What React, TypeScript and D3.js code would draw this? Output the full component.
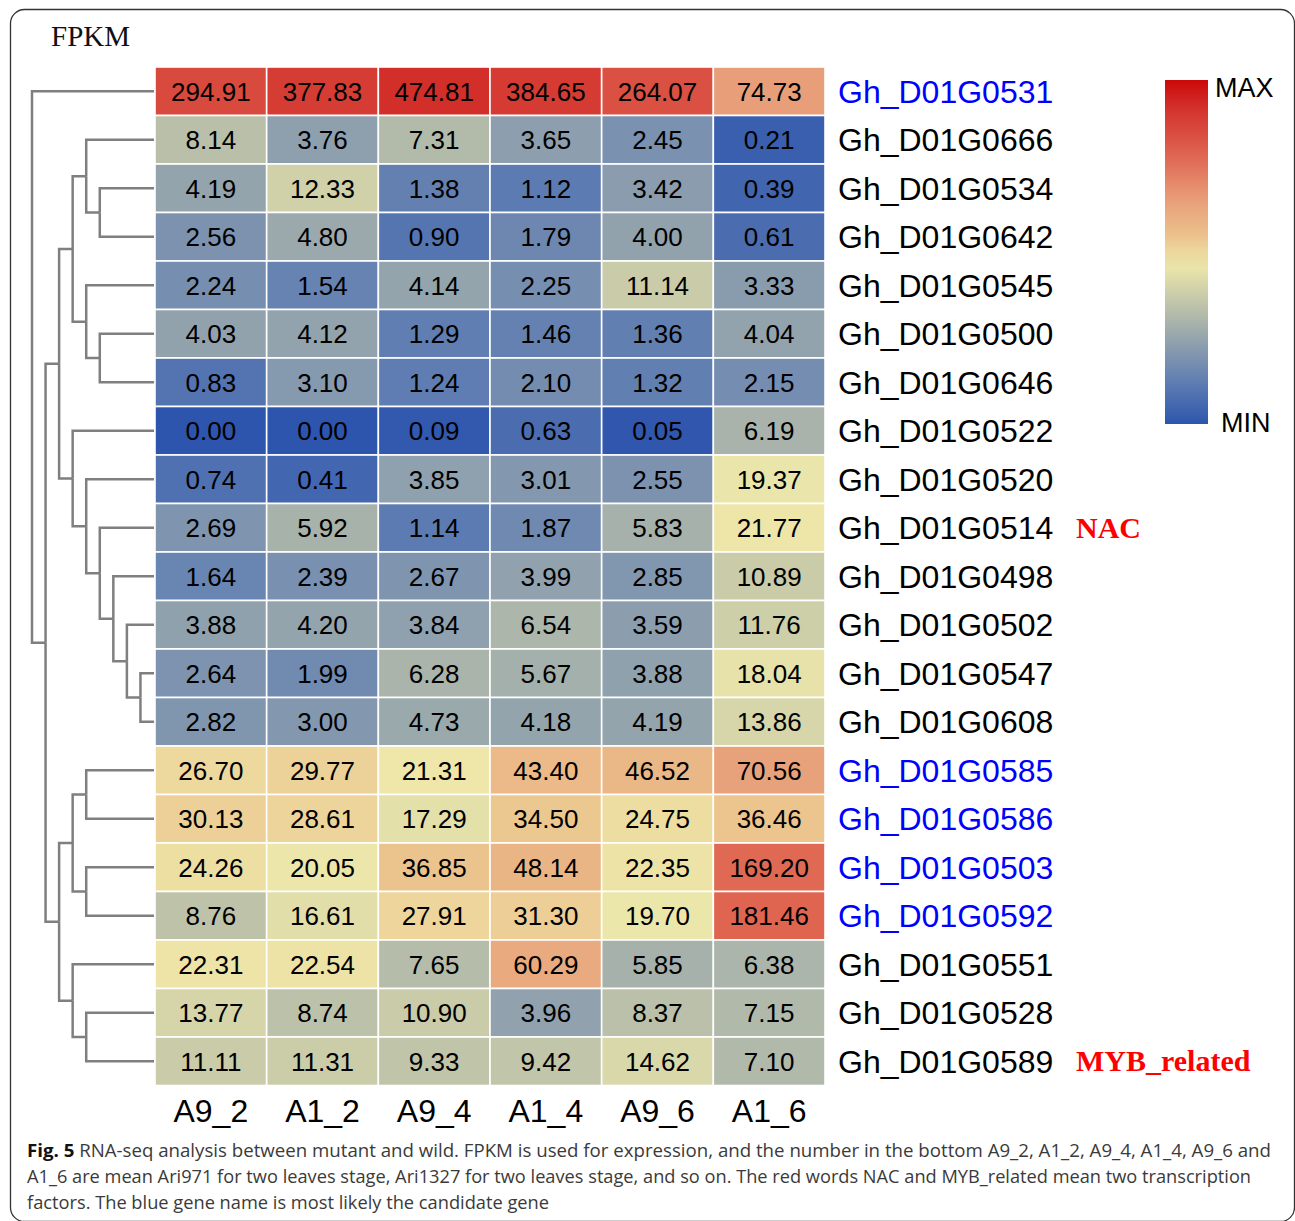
import React from 'react';
import * as d3 from 'd3';

// gene rows, top to bottom as in the clustered heatmap
const genes = [
  'Gh_D01G0531', 'Gh_D01G0666', 'Gh_D01G0534', 'Gh_D01G0642', 'Gh_D01G0545',
  'Gh_D01G0500', 'Gh_D01G0646', 'Gh_D01G0522', 'Gh_D01G0520', 'Gh_D01G0514',
  'Gh_D01G0498', 'Gh_D01G0502', 'Gh_D01G0547', 'Gh_D01G0608', 'Gh_D01G0585',
  'Gh_D01G0586', 'Gh_D01G0503', 'Gh_D01G0592', 'Gh_D01G0551', 'Gh_D01G0528',
  'Gh_D01G0589',
];
const samples = ['A9_2', 'A1_2', 'A9_4', 'A1_4', 'A9_6', 'A1_6'];

// FPKM per sample (one value per gene, same order as genes)
const a9_2 = [294.91, 8.14, 4.19, 2.56, 2.24, 4.03, 0.83, 0.0, 0.74, 2.69, 1.64, 3.88, 2.64, 2.82, 26.7, 30.13, 24.26, 8.76, 22.31, 13.77, 11.11];
const a1_2 = [377.83, 3.76, 12.33, 4.8, 1.54, 4.12, 3.1, 0.0, 0.41, 5.92, 2.39, 4.2, 1.99, 3.0, 29.77, 28.61, 20.05, 16.61, 22.54, 8.74, 11.31];
const a9_4 = [474.81, 7.31, 1.38, 0.9, 4.14, 1.29, 1.24, 0.09, 3.85, 1.14, 2.67, 3.84, 6.28, 4.73, 21.31, 17.29, 36.85, 27.91, 7.65, 10.9, 9.33];
const a1_4 = [384.65, 3.65, 1.12, 1.79, 2.25, 1.46, 2.1, 0.63, 3.01, 1.87, 3.99, 6.54, 5.67, 4.18, 43.4, 34.5, 48.14, 31.3, 60.29, 3.96, 9.42];
const a9_6 = [264.07, 2.45, 3.42, 4.0, 11.14, 1.36, 1.32, 0.05, 2.55, 5.83, 2.85, 3.59, 3.88, 4.19, 46.52, 24.75, 22.35, 19.7, 5.85, 8.37, 14.62];
const a1_6 = [74.73, 0.21, 0.39, 0.61, 3.33, 4.04, 2.15, 6.19, 19.37, 21.77, 10.89, 11.76, 18.04, 13.86, 70.56, 36.46, 169.2, 181.46, 6.38, 7.15, 7.1];
const columns = [a9_2, a1_2, a9_4, a1_4, a9_6, a1_6];

const candidateGenes = ['Gh_D01G0531', 'Gh_D01G0585', 'Gh_D01G0586', 'Gh_D01G0503', 'Gh_D01G0592'];
const tfGenes = ['Gh_D01G0514', 'Gh_D01G0589'];
const tfLabels = ['NAC', 'MYB_related'];

// row dendrogram, leaves are indices into genes
const rowTree = [0, [[[[1, [2, 3]], [4, [5, 6]]], [7, [8, [9, [10, [11, [12, 13]]]]]]], [[[14, 15], [16, 17]], [18, [19, 20]]]]];

const captionLines = [
  'RNA-seq analysis between mutant and wild. FPKM is used for expression, and the number in the bottom A9_2, A1_2, A9_4, A1_4, A9_6 and',
  'A1_6 are mean Ari971 for two leaves stage, Ari1327 for two leaves stage, and so on. The red words NAC and MYB_related mean two transcription',
  'factors. The blue gene name is most likely the candidate gene',
];

const W = 1295;
const H = 1221;
const sans = '"Liberation Sans", Arial, sans-serif';
const serif = '"Liberation Serif", "Times New Roman", serif';

const maxLog = Math.log2(d3.max(columns.flat())! + 1);
const t = (v: number) => Math.log2(v + 1) / maxLog;
const color = d3.scaleLinear<string>()
  .domain([0, 0.12, 0.25, 0.36, 0.5, 0.6, 0.7, 0.83, 1.0, 1.08])
  .range(['#2d55ad', '#5b7ab2', '#8d9fae', '#b9bfa9', '#eee8aa', '#ebbf8a', '#e8a07a', '#e06a55', '#d22f2b', '#cc0808'])
  .interpolate(d3.interpolateRgb)
  .clamp(true);

export default function App() {
  const x = d3.scaleBand().domain(samples).range([155, 825]);
  const y = d3.scaleBand().domain(genes).range([67, 1085.5]);
  const depthX = d3.scaleLinear().domain([0, 9]).range([32, 154]);
  const fmt = d3.format('.2f');

  // dendrogram layout: depth-based x, y at the midpoint of children
  const root = d3.hierarchy<any>(rowTree, d => (Array.isArray(d) ? d : null));
  const pos = new Map<any, { x: number; y: number }>();
  root.eachAfter(n => {
    if (!n.children) {
      pos.set(n, { x: depthX(9), y: y(genes[n.data])! + y.bandwidth() / 2 });
    } else {
      const ys = n.children.map(c => pos.get(c)!.y);
      pos.set(n, { x: depthX(n.depth), y: (d3.min(ys)! + d3.max(ys)!) / 2 });
    }
  });
  const links = root.links().map(l => {
    const s = pos.get(l.source)!;
    const tg = pos.get(l.target)!;
    return `M${s.x},${s.y}V${tg.y}H${tg.x}`;
  });

  const legendStops = d3.range(0, 1.0001, 0.05);

  return (
    <svg width={W} height={H} style={{ position: 'absolute', left: 0, top: 0, background: '#fff' }}>
      <defs>
        <linearGradient id="legendGrad" x1="0" y1="1" x2="0" y2="0">
          {legendStops.map(s => (
            <stop key={s} offset={s} stopColor={color(s * 1.08)} />
          ))}
        </linearGradient>
      </defs>
      <rect x={10.5} y={9.5} width={1284} height={1212} rx={14} fill="none" stroke="#333" strokeWidth={1.3} />

      <text x={51} y={46} fontFamily={serif} fontSize={29} fill="#111">FPKM</text>

      {/* dendrogram */}
      <g fill="none" stroke="#7f7f7f" strokeWidth={2.5}>
        {links.map((d, i) => <path key={i} d={d} />)}
      </g>

      {/* cells */}
      <g>
        {genes.map((g, r) =>
          samples.map((s, c) => {
            const v = columns[c][r];
            return (
              <g key={g + s}>
                <rect x={x(s)} y={y(g)} width={x.bandwidth()} height={y.bandwidth()}
                  fill={color(t(v))} stroke="#fff" strokeWidth={1.6} />
                <text x={x(s)! + x.bandwidth() / 2} y={y(g)! + y.bandwidth() / 2 + 9.5}
                  textAnchor="middle" fontFamily={sans} fontSize={26} fill="#000">{fmt(v)}</text>
              </g>
            );
          })
        )}
      </g>

      {/* row labels */}
      <g fontFamily={sans} fontSize={32}>
        {genes.map(g => (
          <text key={g} x={838} y={y(g)! + y.bandwidth() / 2 + 11.5}
            fill={candidateGenes.includes(g) ? '#0000ff' : '#000'}>{g}</text>
        ))}
      </g>
      <g fontFamily={serif} fontSize={30} fontWeight="bold" fill="#ff0000">
        {tfGenes.map((g, i) => (
          <text key={g} x={1076} y={y(g)! + y.bandwidth() / 2 + 10}>{tfLabels[i]}</text>
        ))}
      </g>

      {/* column labels */}
      <g fontFamily={sans} fontSize={32} textAnchor="middle">
        {samples.map(s => (
          <text key={s} x={x(s)! + x.bandwidth() / 2} y={1122}>{s}</text>
        ))}
      </g>

      {/* legend */}
      <rect x={1165} y={80} width={43} height={344} fill="url(#legendGrad)" />
      <text x={1215} y={97} fontFamily={sans} fontSize={27}>MAX</text>
      <text x={1221} y={432} fontFamily={sans} fontSize={27}>MIN</text>

      {/* caption */}
      <g fontFamily='"Open Sans", "Noto Sans", sans-serif' fontSize={18} fill="#3a3a3a">
        <text x={27} y={1157} textLength={1244} lengthAdjust="spacingAndGlyphs">
          <tspan fontWeight="bold" fill="#111">Fig. 5</tspan>
          <tspan>{'  ' + captionLines[0]}</tspan>
        </text>
        <text x={27} y={1183} textLength={1224} lengthAdjust="spacingAndGlyphs">{captionLines[1]}</text>
        <text x={27} y={1209} textLength={522} lengthAdjust="spacingAndGlyphs">{captionLines[2]}</text>
      </g>
    </svg>
  );
}
